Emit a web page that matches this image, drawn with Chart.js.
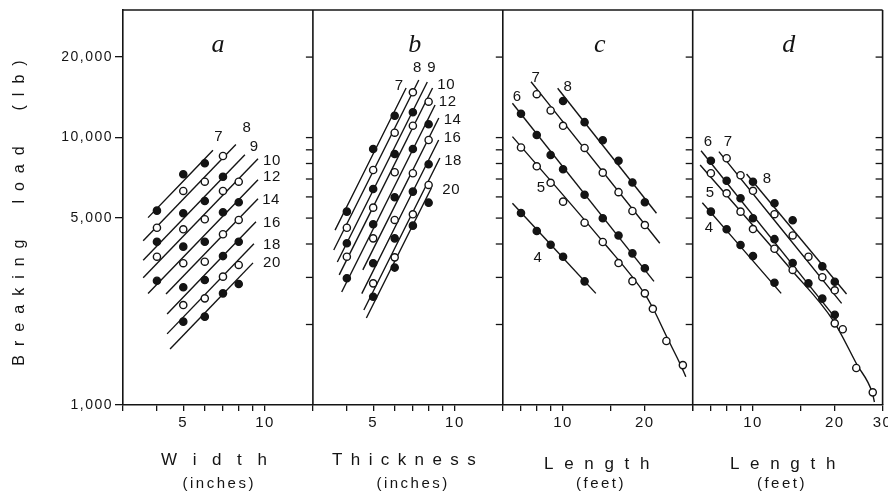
<!DOCTYPE html>
<html lang="en">
<head>
<meta charset="utf-8">
<title>Breaking load</title>
<script src="https://cdn.jsdelivr.net/npm/chart.js@4.4.1/dist/chart.umd.min.js"></script>
<style>
  html, body { margin: 0; padding: 0; background: #ffffff; }
  canvas { display: block; }
</style>
</head>
<body>
<canvas id="chart" width="888" height="493"></canvas>
<script>
/* ── values ─────────────────────────────────────────────── */

// a: breaking load (lb) against width (inches)
const aNames = ['7', '8', '9', '10', '12', '14', '16', '18', '20'];
const aWidth = [4, 5, 6, 7, 8];
const aLoad = [
  [5330, 7290, 8015, null, null],
  [4600, 6315, 6840, 8535, null],
  [4080, 5210, 5795, 7140, null],
  [3585, 4540, 4950, 6315, 6840],
  [2915, 3910, 4080, 5255, 5730],
  [null, 3390, 3435, 4350, 4920],
  [null, 2755, 2935, 3605, 4080],
  [null, 2365, 2505, 3020, 3340],
  [null, 2050, 2140, 2615, 2835]
];
const aFitX = [[3.71, 6.43], [3.56, 7.81], [3.56, 8.43], [3.56, 9.42], [3.71, 9.42],
               [4.32, 9.42], [4.36, 9.26], [4.36, 9.10], [4.47, 9.03]];
const aFitY = [[5020, 8965], [4110, 9425], [3475, 8630], [2990, 8340], [2610, 6960],
               [2600, 5910], [2190, 4845], [1845, 4005], [1620, 3400]];
const aTagX = [6.73, 8.56, 9.10, 10.58, 10.58, 10.5, 10.58, 10.58, 10.58];
const aTagY = [10080, 10830, 9220, 8175, 7105, 5840, 4780, 3965, 3390];

// b: breaking load (lb) against thickness (inches)
const bNames = ['7', '8', '9', '10', '12', '14', '16', '18', '20'];
const bThick = [4, 5, 6, 7, 8];
const bLoad = [
  [5285, 9065, 12075, null, null],
  [4600, 7565, 10430, 14770, null],
  [4025, 6425, 8680, 12435, null],
  [3585, 5470, 7420, 11080, 13620],
  [2980, 4740, 5980, 9065, 11210],
  [null, 4200, 4920, 7355, 9795],
  [null, 3390, 4200, 6280, 7945],
  [null, 2850, 3565, 5165, 6650],
  [null, 2540, 3265, 4685, 5710]
];
const bFitX = [[3.62, 6.61], [3.58, 7.36], [3.69, 7.91], [3.75, 8.27], [3.83, 8.45],
               [4.58, 8.72], [4.54, 8.71], [4.62, 8.80], [4.72, 8.19]];
const bFitY = [[4510, 15330], [3800, 16420], [3425, 16140], [3065, 15330], [2645, 13240],
               [3200, 11840], [2610, 9795], [2265, 8390], [2115, 6480]];
const bTagX = [6.22, 7.26, 8.20, 9.26, 9.38, 9.78, 9.78, 9.82, 9.66];
const bTagY = [15600, 18160, 18160, 15800, 13620, 11670, 9985, 8210, 6370];

// c: breaking load (lb) against length (feet)
const cNames = ['8', '7', '6', '5', '4'];
const cLength = [7, 8, 9, 10, 12, 14, 16, 18, 20, 21.4, 24, 27.6];
const cLoad = [
  [null, null, null, 13700, 11420, 9770, 8190, 6795, 5730, null, null, null],
  [null, 14530, 12630, 11070, 9145, 7395, 6250, 5315, 4710, null, null, null],
  [12285, 10225, 8605, 7610, 6115, 4990, 4305, 3690, 3245, null, null, null],
  [9185, 7810, 6775, 5760, 4805, 4070, 3395, 2905, 2615, 2290, 1735, 1410],
  [5225, 4475, 3975, 3585, 2900, null, null, null, null, null, null, null]
];
const cFitX = [[9.55, 22.07], [7.62, 22.7], [6.51, 21.6],
               [6.51, 14, 20, 21.4, 24.2, 27.1, 28.3], [6.51, 13.2]];
const cFitY = [[15290, 5210], [16180, 4025], [13440, 2900],
               [10080, 4085, 2600, 2305, 1780, 1410, 1275], [5680, 2615]];
const cTagX = [10.4, 7.92, 6.76, 8.29, 8.07];
const cTagY = [15500, 16670, 14220, 6495, 3540];

// d: breaking load (lb) against length (feet)
const dNames = ['8', '7', '6', '5', '4'];
const dLength = [7, 8, 9, 10, 12, 14, 16, 18, 20, 21.4, 24, 27.6];
const dLoad = [
  [null, null, null, 6840, 5680, 4905, null, 3300, 2890, null, null, null],
  [null, 8370, 7230, 6325, 5170, 4305, 3585, 3005, 2685, null, null, null],
  [8195, 6900, 5930, 4990, 4170, 3395, 2850, 2500, 2175, null, null, null],
  [7355, 6190, 5285, 4550, 3840, 3200, null, null, 2020, 1920, 1375, 1115],
  [5285, 4540, 3965, 3605, 2865, null, null, null, null, null, null, null]
];
const dFitX = [[9.47, 22.1], [7.49, 21.2], [6.44, 20.3],
               [6.39, 13.84, 19.8, 24.1, 27.5, 28.0], [6.51, 12.7]];
const dFitY = [[7310, 2600], [8860, 2400], [8930, 2090],
               [7900, 3205, 2060, 1420, 1110, 1026], [5710, 2615]];
const dTagX = [11.25, 8.09, 6.82, 6.95, 6.89];
const dTagY = [7020, 9610, 9610, 6190, 4590];

// axes
const yTickValues = [1000, 5000, 10000, 20000];
const yInnerTicks = [2000, 3000, 4000, 5000, 6000, 7000, 8000, 9000, 10000, 20000];
const inchTicks = [3, 4, 5, 6, 7, 8, 9, 10];
const footTicks = [6, 7, 8, 9, 10, 15, 20, 30];
const aTickLabels = [5, 10];
const bTickLabels = [5, 10];
const cTickLabels = [10, 20];
const dTickLabels = [10, 20, 30];
const panelLetters = ['a', 'b', 'c', 'd'];
const xTitles = ['Width', 'Thickness', 'Length', 'Length'];
const xUnits = ['(inches)', '(inches)', '(feet)', '(feet)'];
const yTitle = 'Breaking  load  (lb)';

/* ── styling ────────────────────────────────────────────── */

const INK = '#141414';
const SANS = '"Liberation Sans", Arial, Helvetica, sans-serif';
const SERIF = '"Liberation Serif", "Times New Roman", serif';

const panels = [
  { axis: 'xa', names: aNames, xs: aWidth, load: aLoad, fitX: aFitX, fitY: aFitY, tagX: aTagX, tagY: aTagY },
  { axis: 'xb', names: bNames, xs: bThick, load: bLoad, fitX: bFitX, fitY: bFitY, tagX: bTagX, tagY: bTagY },
  { axis: 'xc', names: cNames, xs: cLength, load: cLoad, fitX: cFitX, fitY: cFitY, tagX: cTagX, tagY: cTagY },
  { axis: 'xd', names: dNames, xs: dLength, load: dLoad, fitX: dFitX, fitY: dFitY, tagX: dTagX, tagY: dTagY }
];

// small per-panel nudges for the hand-placed captions
const letterShift = [0, 7, 2, 1];
const titleShift = [-4, -4, -1, -5];
const titleSpacing = [15.6, 8.4, 10.7, 10.7];
const titleDrop = [60, 60, 64, 64];
const unitShift = [0, 4, 2, -7];

/* ── datasets ───────────────────────────────────────────── */

const datasets = [];
panels.forEach(p => {
  p.names.forEach((name, i) => {
    const filled = i % 2 === 0;
    datasets.push({
      label: p.axis + ' ' + name,
      xAxisID: p.axis,
      data: p.xs.map((x, j) => ({ x, y: p.load[i][j] })).filter(pt => pt.y !== null),
      showLine: false,
      pointRadius: 3.6,
      pointBorderWidth: 1.4,
      pointBorderColor: INK,
      pointBackgroundColor: filled ? INK : '#ffffff',
      order: 0
    });
    datasets.push({
      label: p.axis + ' fit ' + name,
      xAxisID: p.axis,
      data: p.fitX[i].map((x, j) => ({ x, y: p.fitY[i][j] })),
      showLine: true,
      borderColor: INK,
      borderWidth: 1.4,
      pointRadius: 0,
      cubicInterpolationMode: 'monotone',
      order: 1
    });
  });
});

/* ── scales ─────────────────────────────────────────────── */

function panelAxis(min, max, tickValues, labelled) {
  return {
    type: 'logarithmic',
    position: 'bottom',
    stack: 'panels',
    stackWeight: 1,
    min,
    max,
    afterBuildTicks: s => { s.ticks = tickValues.map(v => ({ value: v })); },
    afterFit: s => { s.height = 88; s.paddingLeft = 0; s.paddingRight = 0; },
    ticks: {
      autoSkip: false,
      maxRotation: 0,
      padding: 3,
      color: INK,
      font: { family: SANS, size: 15 },
      callback: v => (labelled.includes(v) ? String(v) : '')
    },
    grid: { drawOnChartArea: false, drawTicks: true, tickLength: 6, color: INK, lineWidth: 1.3 },
    border: { display: true, color: INK, width: 1.6 }
  };
}

/* ── frame, inward ticks and captions ───────────────────── */

function spacedText(ctx, text, x, y, spacing) {
  ctx.letterSpacing = spacing + 'px';
  ctx.fillText(text, x + spacing / 2, y);
}

const decorations = {
  id: 'decorations',
  beforeDraw(chart) {
    chart.ctx.letterSpacing = '1.5px';
  },
  afterDraw(chart) {
    const { ctx, chartArea: area, scales } = chart;
    const sy = scales.y;
    ctx.save();
    ctx.strokeStyle = INK;
    ctx.fillStyle = INK;

    ctx.lineWidth = 1.6;
    ctx.beginPath();
    ctx.moveTo(area.left, area.top);
    ctx.lineTo(area.right, area.top);
    ctx.stroke();

    panels.forEach((p, k) => {
      const sx = scales[p.axis];
      const mid = (sx.left + sx.right) / 2;

      // panel's right edge with ticks pointing inward
      ctx.lineWidth = 1.6;
      ctx.beginPath();
      ctx.moveTo(sx.right, area.top);
      ctx.lineTo(sx.right, area.bottom);
      ctx.stroke();
      ctx.lineWidth = 1.3;
      yInnerTicks.forEach(v => {
        const y = sy.getPixelForValue(v);
        ctx.beginPath();
        ctx.moveTo(sx.right - 7, y);
        ctx.lineTo(sx.right, y);
        ctx.stroke();
      });

      // line numbers
      ctx.font = '15px ' + SANS;
      ctx.textAlign = 'center';
      ctx.textBaseline = 'middle';
      p.names.forEach((name, i) => {
        spacedText(ctx, name, sx.getPixelForValue(p.tagX[i]), sy.getPixelForValue(p.tagY[i]), 0.5);
      });

      // panel letter
      ctx.font = 'italic 26px ' + SERIF;
      ctx.textBaseline = 'alphabetic';
      spacedText(ctx, panelLetters[k], mid + letterShift[k], area.top + 42, 0);

      // axis caption
      ctx.font = '17px ' + SANS;
      spacedText(ctx, xTitles[k], mid + titleShift[k], area.bottom + titleDrop[k], titleSpacing[k]);
      ctx.font = '15px ' + SANS;
      spacedText(ctx, xUnits[k], mid + unitShift[k], area.bottom + 83, 2.5);
    });

    // y caption
    ctx.save();
    ctx.translate(20, 213);
    ctx.rotate(-Math.PI / 2);
    ctx.font = '16px ' + SANS;
    ctx.textAlign = 'center';
    ctx.textBaseline = 'middle';
    spacedText(ctx, yTitle, 0, 0, 9);
    ctx.restore();

    ctx.restore();
  }
};

/* ── chart ──────────────────────────────────────────────── */

new Chart(document.getElementById('chart'), {
  type: 'scatter',
  data: { datasets },
  options: {
    responsive: false,
    animation: false,
    devicePixelRatio: 1,
    events: [],
    layout: { padding: { top: 10, right: 5, bottom: 0, left: 0 } },
    plugins: { legend: { display: false }, tooltip: { enabled: false } },
    scales: {
      y: {
        type: 'logarithmic',
        position: 'left',
        min: 1000,
        max: 30000,
        afterBuildTicks: s => { s.ticks = yTickValues.map(v => ({ value: v })); },
        afterFit: s => { s.width = 123; s.paddingTop = 0; s.paddingBottom = 0; },
        ticks: {
          padding: 2,
          color: INK,
          font: { family: SANS, size: 14 },
          callback: v => Number(v).toLocaleString('en-US')
        },
        grid: { drawOnChartArea: false, drawTicks: true, tickLength: 8, color: INK, lineWidth: 1.3 },
        border: { display: true, color: INK, width: 1.6 }
      },
      xa: panelAxis(3, 15, inchTicks, aTickLabels),
      xb: panelAxis(3, 15, inchTicks, bTickLabels),
      xc: panelAxis(6, 30, footTicks, cTickLabels),
      xd: panelAxis(6, 30, footTicks, dTickLabels)
    }
  },
  plugins: [decorations]
});
</script>
</body>
</html>
